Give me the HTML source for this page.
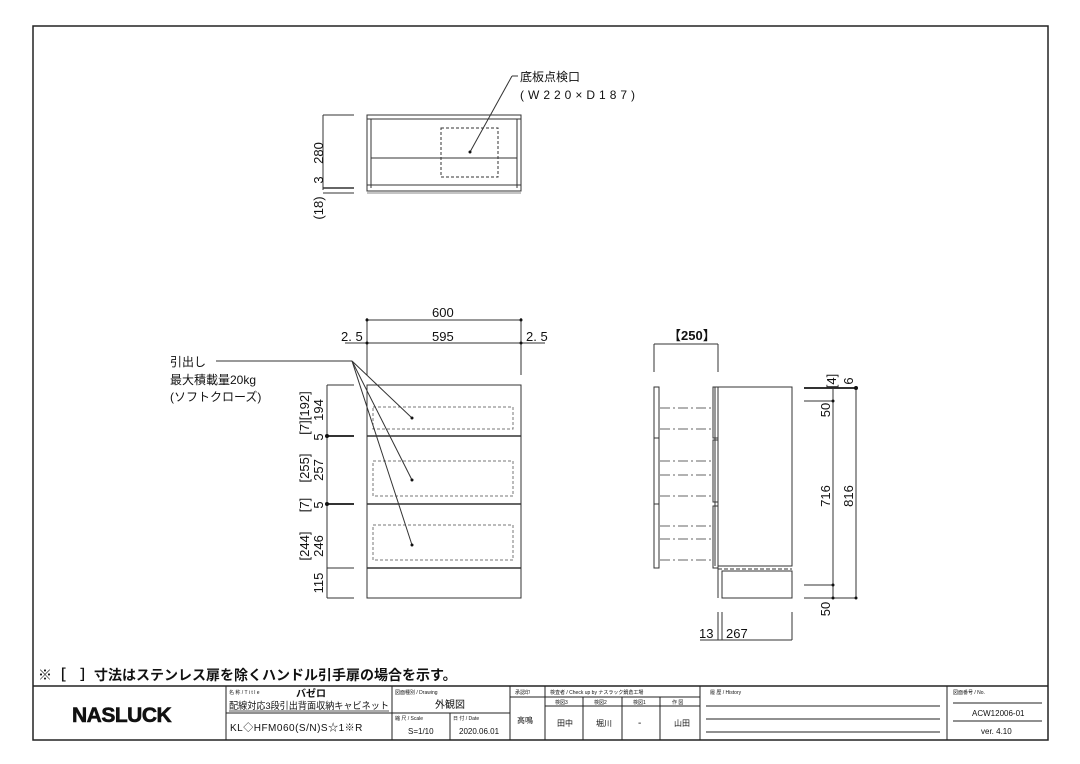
<!DOCTYPE html>
<html><head><meta charset="utf-8"><style>
html,body{margin:0;padding:0;background:#fff}
svg{display:block}
text{font-family:"Liberation Sans","Noto Sans CJK JP",sans-serif;fill:#111}
</style></head><body>
<svg width="1080" height="764" viewBox="0 0 1080 764" xmlns="http://www.w3.org/2000/svg">
<rect x="33" y="26" width="1015" height="714" fill="none" stroke="#222" stroke-width="1.5"/>
<g stroke="#333" stroke-width="1" fill="none">
<!-- top view -->
<rect x="367" y="115" width="154" height="76"/>
<line x1="367" y1="119" x2="521" y2="119"/>
<line x1="371" y1="119" x2="371" y2="188"/><line x1="517" y1="119" x2="517" y2="188"/>
<line x1="371" y1="158" x2="517" y2="158"/>
<line x1="367" y1="185" x2="521" y2="185"/>
<line x1="367" y1="193" x2="521" y2="193" stroke="#888"/>
<rect x="441" y="128" width="57" height="49" stroke-dasharray="3,2"/>
<line x1="470" y1="152" x2="512" y2="76"/><line x1="512" y1="76" x2="518" y2="76"/>
<line x1="323" y1="115" x2="354" y2="115"/><line x1="323" y1="115" x2="323" y2="190"/>
<line x1="323" y1="188" x2="354" y2="188" stroke-width="1.5"/><line x1="323" y1="193" x2="354" y2="193"/>
<!-- front view -->
<rect x="367" y="385" width="154" height="213"/>
<line x1="367" y1="436" x2="521" y2="436" stroke-width="1.5"/>
<line x1="367" y1="504" x2="521" y2="504" stroke-width="1.5"/>
<line x1="367" y1="568" x2="521" y2="568" stroke-width="1.5"/>
<g stroke-dasharray="3,2" stroke="#777">
<rect x="373" y="407" width="140" height="22"/>
<rect x="373" y="461" width="140" height="35"/>
<rect x="373" y="525" width="140" height="35"/>
</g>
<line x1="367" y1="320" x2="521" y2="320"/>
<line x1="345" y1="343" x2="545" y2="343"/>
<line x1="367" y1="318" x2="367" y2="375"/><line x1="521" y1="318" x2="521" y2="375"/>
<line x1="216" y1="361" x2="352" y2="361"/>
<line x1="352" y1="361" x2="412" y2="418"/>
<line x1="352" y1="361" x2="412" y2="480"/>
<line x1="352" y1="361" x2="412" y2="545"/>
<line x1="327" y1="385" x2="327" y2="598"/>
<line x1="327" y1="385" x2="354" y2="385"/>
<line x1="327" y1="436" x2="354" y2="436" stroke-width="2"/>
<line x1="327" y1="504" x2="354" y2="504" stroke-width="2"/>
<line x1="327" y1="568" x2="354" y2="568"/>
<line x1="327" y1="598" x2="354" y2="598"/>
<!-- side view -->
<rect x="718" y="387" width="74" height="179"/>
<line x1="715" y1="387" x2="715" y2="566"/>
<line x1="718" y1="566" x2="718" y2="598"/>
<rect x="722" y="571" width="70" height="27"/>
<line x1="718" y1="566" x2="792" y2="566" stroke-dasharray="4,2"/>
<line x1="718" y1="569" x2="792" y2="569" stroke-dasharray="4,2"/>
<rect x="654" y="387" width="5" height="181"/>
<line x1="654" y1="438" x2="659" y2="438"/><line x1="654" y1="504" x2="659" y2="504"/>
<rect x="713" y="387" width="5" height="51"/>
<rect x="713" y="440" width="5" height="62"/>
<rect x="713" y="506" width="5" height="62"/>
<g stroke-dasharray="10,3,2,3" stroke="#666">
<line x1="660" y1="408" x2="713" y2="408"/><line x1="660" y1="429" x2="713" y2="429"/>
<line x1="660" y1="461" x2="713" y2="461"/><line x1="660" y1="475" x2="713" y2="475"/>
<line x1="660" y1="496" x2="713" y2="496"/><line x1="660" y1="526" x2="713" y2="526"/>
<line x1="660" y1="539" x2="713" y2="539"/><line x1="660" y1="560" x2="713" y2="560"/>
</g>
<line x1="654" y1="344" x2="718" y2="344"/>
<line x1="654" y1="344" x2="654" y2="372"/><line x1="718" y1="344" x2="718" y2="372"/>
<line x1="804" y1="388" x2="855" y2="388" stroke-width="2"/>
<line x1="804" y1="401" x2="833" y2="401"/>
<line x1="804" y1="585" x2="833" y2="585"/>
<line x1="804" y1="598" x2="855" y2="598"/>
<line x1="833" y1="388" x2="833" y2="598"/>
<line x1="856" y1="388" x2="856" y2="598"/>
<line x1="700" y1="640" x2="792" y2="640"/>
<line x1="718" y1="612" x2="718" y2="640"/><line x1="722" y1="612" x2="722" y2="640"/><line x1="792" y1="612" x2="792" y2="640"/>
</g>
<g fill="#111">
<circle cx="470" cy="152" r="1.5"/><circle cx="412" cy="418" r="1.5"/><circle cx="412" cy="480" r="1.5"/><circle cx="412" cy="545" r="1.5"/>
<circle cx="367" cy="320" r="1.5"/><circle cx="521" cy="320" r="1.5"/><circle cx="367" cy="343" r="1.5"/><circle cx="521" cy="343" r="1.5"/>
<circle cx="327" cy="436" r="2"/><circle cx="327" cy="504" r="2"/><circle cx="856" cy="388" r="2"/><circle cx="856" cy="598" r="1.5"/>
<circle cx="833" cy="401" r="1.5"/><circle cx="833" cy="585" r="1.5"/><circle cx="833" cy="598" r="1.5"/>
</g>
<g font-size="12">
<text x="520" y="81">底板点検口</text>
<text x="520" y="99" letter-spacing="4">(W220×D187)</text>
<text x="432" y="317" font-size="13">600</text>
<text x="432" y="341" font-size="13">595</text>
<text x="341" y="341" font-size="13">2. 5</text>
<text x="526" y="341" font-size="13">2. 5</text>
<text x="170" y="366">引出し</text>
<text x="170" y="384">最大積載量20kg</text>
<text x="170" y="401">(ソフトクローズ)</text>
<text x="668" y="340" font-size="13" font-weight="bold">【250】</text>
<text x="726" y="638" font-size="13">267</text>
<text x="699" y="638" font-size="13">13</text>
</g>
<g font-size="13" text-anchor="middle">
<text transform="translate(323,153) rotate(-90)">280</text>
<text transform="translate(323,180) rotate(-90)">3</text>
<text transform="translate(323,208) rotate(-90)">(18)</text>
<text transform="translate(323,410) rotate(-90)">194</text>
<text transform="translate(309,413) rotate(-90)">[7][192]</text>
<text transform="translate(323,437) rotate(-90)">5</text>
<text transform="translate(323,470) rotate(-90)">257</text>
<text transform="translate(309,468) rotate(-90)">[255]</text>
<text transform="translate(309,505) rotate(-90)">[7]</text>
<text transform="translate(323,505) rotate(-90)">5</text>
<text transform="translate(323,546) rotate(-90)">246</text>
<text transform="translate(309,546) rotate(-90)">[244]</text>
<text transform="translate(323,583) rotate(-90)">115</text>
<text transform="translate(830,410) rotate(-90)">50</text>
<text transform="translate(830,496) rotate(-90)">716</text>
<text transform="translate(853,496) rotate(-90)">816</text>
<text transform="translate(830,609) rotate(-90)">50</text>
<text transform="translate(836,381) rotate(-90)">[4]</text>
<text transform="translate(853,381) rotate(-90)">6</text>
</g>
<text x="38" y="680" font-size="14" font-weight="bold">※［　］寸法はステンレス扉を除くハンドル引手扉の場合を示す。</text>
<!-- title block -->
<g stroke="#222" fill="none" stroke-width="1">
<line x1="33" y1="686" x2="1048" y2="686" stroke-width="1.5"/>
<line x1="226" y1="686" x2="226" y2="740"/><line x1="392" y1="686" x2="392" y2="740"/>
<line x1="510" y1="686" x2="510" y2="740"/><line x1="545" y1="686" x2="545" y2="740"/>
<line x1="700" y1="686" x2="700" y2="740"/><line x1="947" y1="686" x2="947" y2="740"/>
<line x1="226" y1="713" x2="510" y2="713"/><line x1="450" y1="713" x2="450" y2="740"/>
<line x1="510" y1="697" x2="700" y2="697"/><line x1="545" y1="706" x2="700" y2="706"/>
<line x1="583" y1="697" x2="583" y2="740"/><line x1="622" y1="697" x2="622" y2="740"/><line x1="660" y1="697" x2="660" y2="740"/>
<line x1="706" y1="706" x2="940" y2="706"/><line x1="706" y1="719" x2="940" y2="719"/><line x1="706" y1="732" x2="940" y2="732"/>
<line x1="953" y1="703" x2="1042" y2="703"/><line x1="953" y1="721" x2="1042" y2="721"/>
<line x1="229" y1="711" x2="389" y2="711" stroke-width="0.7"/>
</g>
<g font-size="5" fill="#444">
<text x="229" y="694">名 称 / T i t l e</text><text x="395" y="694">図面種別 / Drawing</text>
<text x="395" y="720">縮 尺 / Scale</text><text x="453" y="720">日 付 / Date</text>
<text x="515" y="694">承認印</text><text x="550" y="694">検査者 / Check up by ナスラック鍋倉工場</text>
<text x="710" y="694">履 歴 / History</text><text x="953" y="694">図面番号 / No.</text>
<text x="555" y="704">検図3</text><text x="594" y="704">検図2</text><text x="633" y="704">検図1</text><text x="672" y="704">作 図</text>
</g>
<text x="72" y="722" font-size="21" font-weight="bold" font-family="Liberation Sans,sans-serif" letter-spacing="-0.5" stroke="#111" stroke-width="0.6">NASLUCK</text>
<g font-size="10">
<text x="296" y="697" font-weight="bold">バゼロ</text>
<text x="229" y="709" font-size="9.5" textLength="160" lengthAdjust="spacingAndGlyphs">配線対応3段引出背面収納キャビネット</text>
<text x="230" y="731" letter-spacing="0.5">KL◇HFM060(S/N)S☆1※R</text>
<text x="435" y="708">外観図</text>
<text x="408" y="734" font-size="8">S=1/10</text><text x="459" y="734" font-size="8">2020.06.01</text>
<text x="517" y="723" font-size="8">高鳴</text>
<text x="557" y="726" font-size="8">田中</text><text x="596" y="726" font-size="8">堀川</text><text x="638" y="726">-</text><text x="674" y="726" font-size="8">山田</text>
<text x="972" y="716" font-size="8">ACW12006-01</text><text x="981" y="734" font-size="8">ver. 4.10</text>
</g>
</svg>
</body></html>
